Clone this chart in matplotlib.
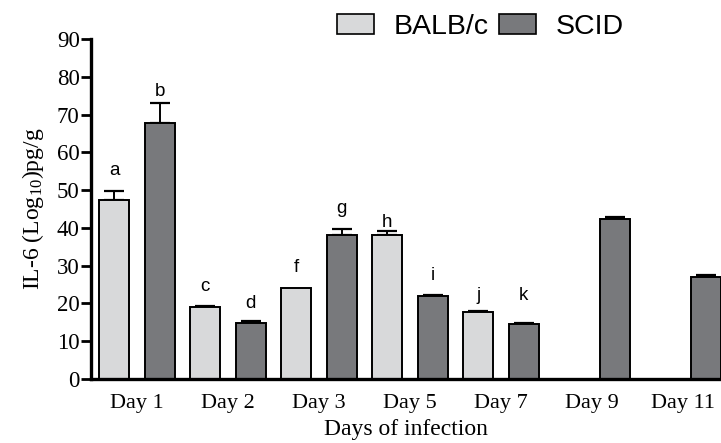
import matplotlib
matplotlib.use("Agg")
import matplotlib.pyplot as plt
from matplotlib.patches import Patch
import numpy as np

days = ["Day 1", "Day 2", "Day 3", "Day 5", "Day 7", "Day 9", "Day 11"]
balb = [47.5, 19.0, 24.0, 38.2, 17.8, None, None]
balb_err = [2.3, 0.3, 0.0, 0.9, 0.3, None, None]
scid = [67.7, 14.8, 38.2, 22.0, 14.6, 42.3, 27.0]
scid_err = [5.4, 0.6, 1.5, 0.3, 0.3, 0.6, 0.4]
balb_letters = ["a", "c", "f", "h", "j", None, None]
balb_letter_y = [55.3, 24.4, 29.4, 41.3, 22.2, None, None]
scid_letters = ["b", "d", "g", "i", "k", None, None]
scid_letter_y = [76.2, 19.9, 45.0, 27.5, 22.0, None, None]

plt.rcParams['mathtext.fontset'] = 'custom'
plt.rcParams['mathtext.rm'] = 'Liberation Serif'
plt.rcParams['mathtext.it'] = 'Liberation Serif:italic'

light = "#d8d9da"
dark = "#78797c"
serif = "Liberation Serif"
sans = "Liberation Sans"

fig = plt.figure(figsize=(7.21, 4.43), dpi=100)
ax = fig.add_axes([0.126, 0.1445, 0.874, 0.7675])

x = np.arange(len(days))
w = 0.33
off = 0.25

for i in range(len(days)):
    if balb[i] is not None:
        ax.bar(x[i] - off, balb[i], w, color=light, edgecolor="black", linewidth=1.4, zorder=2)
        if balb_err[i]:
            ax.errorbar(x[i] - off, balb[i], yerr=[[0], [balb_err[i]]], fmt="none",
                        ecolor="black", elinewidth=1.4, capsize=7, capthick=1.6, zorder=1)
        if balb_letters[i]:
            ax.text(x[i] - off, balb_letter_y[i], balb_letters[i], ha="center", va="center",
                    fontsize=13.5, family=sans)
    if scid[i] is not None:
        ax.bar(x[i] + off, scid[i], w, color=dark, edgecolor="black", linewidth=1.4, zorder=2)
        if scid_err[i]:
            ax.errorbar(x[i] + off, scid[i], yerr=[[0], [scid_err[i]]], fmt="none",
                        ecolor="black", elinewidth=1.4, capsize=7, capthick=1.6, zorder=1)
        if scid_letters[i]:
            ax.text(x[i] + off, scid_letter_y[i], scid_letters[i], ha="center", va="center",
                    fontsize=13.5, family=sans)

ax.set_xlim(-0.505, 6.42)
ax.set_ylim(0, 90)
ax.set_yticks(np.arange(0, 91, 10))
ax.set_xticks(x)
ax.set_xticklabels(days, fontsize=16, family=serif)
ax.tick_params(axis="x", length=0, pad=11)
ax.tick_params(axis="y", length=7, width=2, labelsize=16.5, pad=1)
for lbl in ax.get_yticklabels():
    lbl.set_family(serif)
for s in ["top", "right"]:
    ax.spines[s].set_visible(False)
ax.spines["left"].set_linewidth(2.4)
ax.spines["bottom"].set_linewidth(2.4)
ax.spines["bottom"].set_zorder(3)

ax.set_xlabel("Days of infection", fontsize=17, family=serif, labelpad=4)
ax.set_ylabel(r"IL-6 (Log$_{\mathrm{10}}$)pg/g", fontsize=17, family=serif, labelpad=8)

handles = [Patch(facecolor=light, edgecolor="black", linewidth=1.2, label="BALB/c"),
           Patch(facecolor=dark, edgecolor="black", linewidth=1.2, label="SCID")]
leg = fig.legend(handles=handles, loc="center", bbox_to_anchor=(0.666, 0.94), ncol=2,
                 frameon=False, prop={"family": sans, "size": 20.5},
                 handlelength=1.3, handleheight=0.7, handletextpad=0.7, columnspacing=0.35,
                 borderaxespad=0, borderpad=0)

fig.savefig("out.png", dpi=100)
